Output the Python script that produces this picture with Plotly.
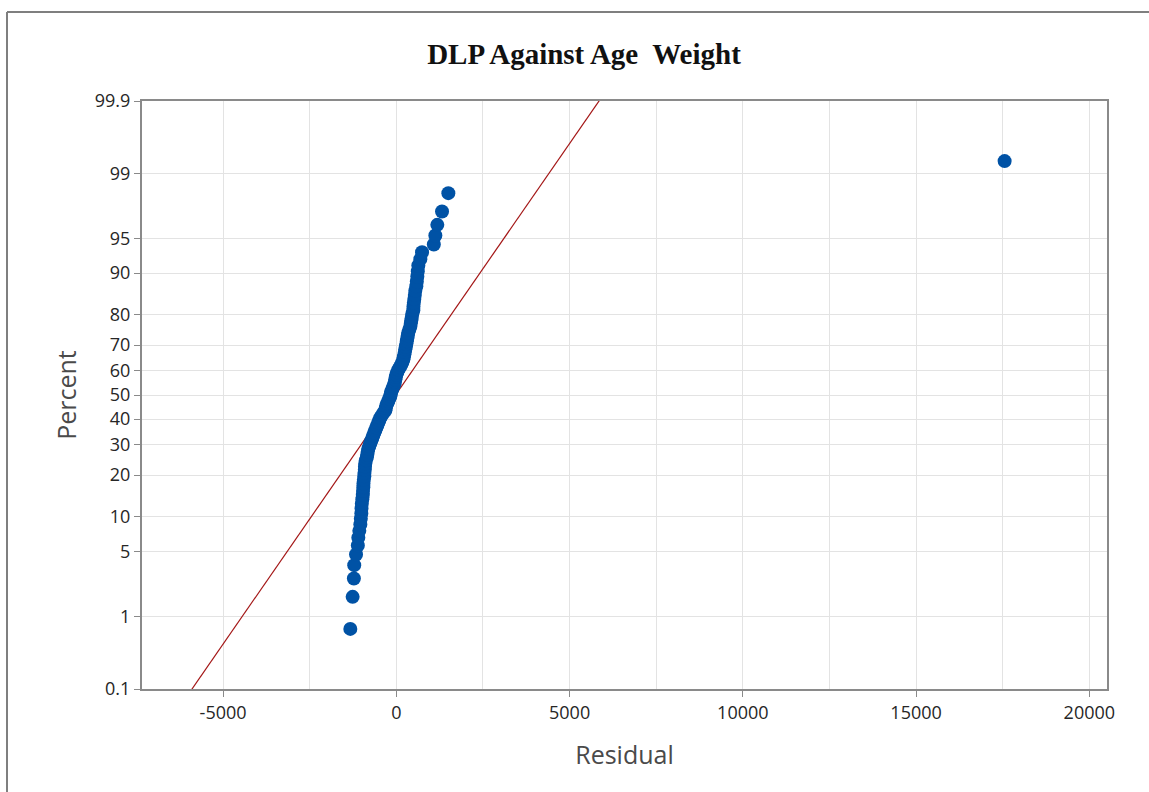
import plotly.graph_objects as go
from statistics import NormalDist, mean, stdev

# ---- data ----
residuals = [
    -1328, -1261, -1225, -1215, -1163, -1111, -1097, -1068, -1039, -1025,
    -1010, -1005, -996, -981, -967, -962, -952, -948, -938, -924,
    -920, -909, -905, -895, -880, -851, -837, -823, -808, -779,
    -750, -722, -693, -664, -635, -606, -577, -548, -519, -491,
    -462, -418, -375, -317, -303, -289, -260, -231, -202, -173,
    -159, -144, -115, -87, -58, -43, -29, -14, 0, 29,
    58, 101, 144, 173, 202, 216, 231, 245, 260, 274,
    289, 303, 317, 332, 346, 375, 404, 418, 433, 447,
    462, 491, 495, 505, 519, 534, 548, 577, 592, 606,
    620, 635, 693, 742, 1082, 1126, 1183, 1319, 1501, 17555,
]
percent_ticks = [0.1, 1, 5, 10, 20, 30, 40, 50, 60, 70, 80, 90, 95, 99, 99.9]
percent_labels = ["0.1", "1", "5", "10", "20", "30", "40", "50", "60", "70",
                  "80", "90", "95", "99", "99.9"]
x_ticks = [-5000, 0, 5000, 10000, 15000, 20000]
x_tick_labels = ["-5000", "0", "5000", "10000", "15000", "20000"]
x_range = [-7340, 20510]

title_text = "DLP Against Age  Weight"
x_title = "Residual"
y_title = "Percent"

# ---- normal probability scale ----
nd = NormalDist()
n = len(residuals)
xs = sorted(residuals)
pp = [(i - 0.3) / (n + 0.4) for i in range(1, n + 1)]  # median ranks
zs = [nd.inv_cdf(p) for p in pp]
z_ticks = [nd.inv_cdf(p / 100) for p in percent_ticks]
z_lo, z_hi = z_ticks[0], z_ticks[-1]

mu, sd = mean(residuals), stdev(residuals)
line_z = [-4.0, 4.0]
line_x = [mu + sd * z for z in line_z]

fig = go.Figure()
fig.add_trace(go.Scatter(
    x=line_x, y=line_z, mode="lines",
    line=dict(color="#a31515", width=1.2), showlegend=False, hoverinfo="skip"))
fig.add_trace(go.Scatter(
    x=xs, y=zs, mode="markers",
    marker=dict(color="#0052a5", size=14, line=dict(width=0)),
    showlegend=False))

axis_color = "#8a8a8a"
grid_color = "#e3e3e3"
sans = "Segoe UI, Open Sans, Noto Sans, sans-serif"
tick_font = dict(family=sans, size=18, color="#262626")
label_font = dict(family=sans, size=25, color="#4a4a4a")

fig.update_layout(
    width=1149, height=792,
    margin=dict(l=142, r=42, t=101, b=103),
    paper_bgcolor="white", plot_bgcolor="white",
    title=dict(text="<b>" + title_text + "</b>", x=584 / 1149, xanchor="center",
               y=1 - 54 / 792, yanchor="middle",
               font=dict(family="Liberation Serif, Times New Roman, serif", size=29, color="#111111")),
    xaxis=dict(
        range=x_range, tickvals=x_ticks, ticktext=x_tick_labels,
        ticks="outside", ticklen=6, tickcolor=axis_color,
        showline=True, linecolor=axis_color, linewidth=2, mirror=True,
        showgrid=True, gridcolor=grid_color, gridwidth=1, zeroline=False,
        minor=dict(dtick=2500, tick0=0, showgrid=True, gridcolor=grid_color, ticks=""),
        tickfont=tick_font,
        title=dict(text=x_title, standoff=24, font=label_font),
    ),
    yaxis=dict(
        range=[z_lo, z_hi], tickvals=z_ticks, ticktext=percent_labels,
        ticks="outside", ticklen=6, tickcolor=axis_color,
        showline=True, linecolor=axis_color, linewidth=2, mirror=True,
        showgrid=True, gridcolor=grid_color, gridwidth=1, zeroline=False,
        tickfont=tick_font,
        title=dict(text=y_title, standoff=11, font=label_font),
    ),
)

# outer frame (left and top edges of the original window)
plot_w, plot_h = 1149 - 142 - 42, 792 - 101 - 103
def px(xp):
    return (xp - 142) / plot_w
def py(yp):
    return (792 - 103 - yp) / plot_h
frame_color = "#7f7f7f"
fig.add_shape(type="line", xref="paper", yref="paper",
              x0=px(7), x1=px(1160), y0=py(12), y1=py(12),
              line=dict(color=frame_color, width=2))
fig.add_shape(type="line", xref="paper", yref="paper",
              x0=px(7), x1=px(7), y0=py(12), y1=py(800),
              line=dict(color=frame_color, width=2))

fig.write_html("out.html")
